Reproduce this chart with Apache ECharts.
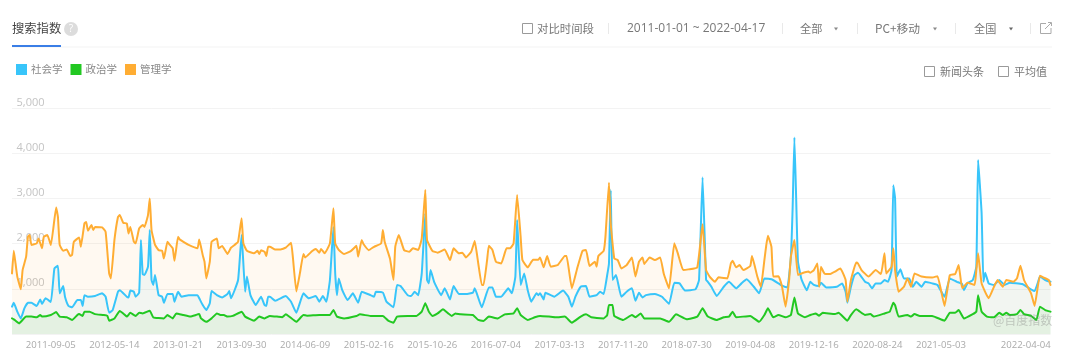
<!DOCTYPE html>
<html><head><meta charset="utf-8">
<style>html,body{margin:0;padding:0;background:#fff}#c{width:1080px;height:360px;filter:blur(0.4px)}</style>
<script src="https://cdn.jsdelivr.net/npm/echarts@6/dist/echarts.min.js"></script>
</head><body><div id="c"></div>
<script>
const seriesNames=['社会学','政治学','管理学'];
const tickDates=['2011-09-05','2012-05-14','2013-01-21','2013-09-30','2014-06-09','2015-02-16','2015-10-26','2016-07-04','2017-03-13','2017-11-20','2018-07-30','2019-04-08','2019-12-16','2020-08-24','2021-05-03','2022-04-04'];
const yTicks=[0,1000,2000,3000,4000,5000];
// week number counted from 2011-01-03
const sociologyWeeks=[0,1,3,5,7,9,11,14,16,17,19,22,24,26,27,29,30,32,34,37,39,40,41,43,47,51,53,55,57,60,61,65,66,67,69,70,72,73,74,75,77,78,79,80,81,83,85,86,88,91,92,94,96,100,105,106,108,110,112,113,116,119,122,123,124,128,130,132,133,135,138,141,143,144,145,
146,149,155,158,161,165,168,172,174,176,178,180,182,183,184,185,187,190,193,196,198,203,205,206,210,212,216,218,220,224,226,228,230,232,234,235,236,237,239,243,245,248,250,253,257,261,262,266,270,272,274,277,281,283,285,286,288,290,292,294,297,298,
299,301,302,307,312,315,317,319,322,325,327,331,333,335,337,338,339,340,342,345,348,351,353,355,357,359,364,368,372,375,378,381,387,389,391,393,394,396,399,403,406,410,413,416,420,423,426,430,434,436,439,441,442,443,444,445,447,450,
452,454,457,458,461,467,470,472,473,475,477,479,483,485,487,489,492,494,496,498,499,500,501,503,505,508,510,512,515,517,521,524,528,531,535,538,539,541,544,546,547,549,550,551,553,556,559,562,565,572,576,579,581,582,585,588];
const sociologyValues=[605,690,495,345,565,690,690,620,765,665,790,710,1450,1510,900,1060,825,620,590,750,750,620,860,825,840,900,825,470,530,935,970,825,810,960,935,825,915,2080,1325,1305,1490,2300,1195,1085,1305,860,825,690,885,885,715,935,825,860,860,790,640,530,680,950,860,810,885,950,790,1195,2190,935,1270,860,640,825,640,620,825,
825,735,840,715,470,900,790,840,715,840,715,1195,2370,1340,860,1230,970,750,900,690,935,860,825,935,915,715,590,1085,1060,860,840,935,860,1340,2670,1195,1120,1415,1155,860,1010,765,1060,885,885,915,1010,590,1030,1030,825,825,1010,900,1270,2520,1085,1340,970,715,900,860,
900,765,915,825,960,825,605,825,1045,1060,825,860,935,885,1305,1560,3185,1195,1305,825,935,1010,735,915,810,860,885,825,665,1135,1120,960,990,1195,3470,1195,1155,1045,840,1045,1155,1010,1120,1210,1045,900,1230,1210,1120,1070,1030,1710,2800,4350,3000,1610,1210,970,
1155,1085,1060,1135,1030,1045,1120,935,690,1045,1305,1355,1155,1120,1010,1120,1120,1195,1155,1415,3290,3000,1270,1430,1230,1230,1045,1155,1045,1155,1120,1085,825,1230,1155,1105,970,1120,1195,1490,3850,2670,1155,1355,1120,1085,1195,1085,1135,1105,1010,950,1155,1270,1195,1155];
const politicsWeeks=[0,1,4,5,8,11,14,16,17,22,25,27,31,34,37,38,40,41,44,47,52,54,55,58,61,64,65,67,70,72,74,78,80,86,88,91,93,97,101,106,107,110,113,116,118,120,122,125,130,132,137,140,143,146,
150,153,155,157,161,165,167,174,180,182,184,188,195,197,203,210,213,216,218,224,229,232,234,236,238,241,244,247,249,251,254,261,264,267,270,275,279,284,286,288,292,296,299,
304,308,313,317,322,325,328,335,337,338,340,341,346,351,353,356,358,367,372,376,382,388,391,394,399,403,406,408,410,418,423,426,428,431,434,438,441,443,445,449,452,
455,457,459,466,468,473,475,478,483,486,488,494,497,499,500,502,507,509,511,514,521,528,531,534,536,539,544,546,547,549,552,556,559,561,563,565,569,571,573,577,580,582,585,588];
const politicsValues=[345,325,235,270,385,385,370,420,385,420,485,385,370,310,420,440,400,495,495,440,420,400,295,345,510,420,385,470,400,470,455,515,370,345,420,345,455,420,385,440,345,270,345,455,420,420,385,400,495,385,295,385,345,400,
385,370,435,385,270,420,405,420,420,530,385,345,400,435,400,400,295,250,385,400,400,495,680,495,400,455,545,455,400,455,435,420,310,290,385,345,435,455,570,420,310,370,400,
385,370,385,250,385,435,370,345,420,640,640,400,310,420,370,455,345,345,270,435,325,385,570,385,310,370,385,495,370,400,270,420,570,370,420,370,420,810,455,370,420,
455,405,470,440,470,295,420,545,420,440,385,455,495,690,640,385,420,385,440,400,400,295,470,470,530,345,440,495,860,495,385,370,470,420,470,420,440,530,440,400,310,605,530,495];
const managementWeeks=[0,1,2,3,5,6,8,9,10,11,14,15,17,18,20,22,25,26,27,29,31,33,34,35,38,39,41,42,43,45,46,47,51,53,55,56,58,60,61,63,65,66,67,69,70,72,74,75,77,78,79,81,83,85,86,88,89,91,92,94,95,97,100,105,106,108,109,110,112,113,116,117,119,122,124,126,128,130,131,133,137,139,140,141,143,144,145,
146,149,152,155,158,159,161,163,165,166,170,172,174,175,177,180,182,183,185,188,192,195,196,198,199,202,205,209,210,211,214,216,217,219,222,225,227,230,232,234,235,238,241,245,248,250,253,255,257,260,262,264,266,267,269,270,272,274,277,280,282,284,286,288,289,292,295,298,
299,301,303,305,309,313,314,317,320,323,325,327,330,331,332,335,336,338,339,341,343,345,348,351,353,355,357,358,361,364,367,369,372,375,377,380,383,388,391,393,395,398,400,405,407,408,410,412,414,418,419,422,424,426,427,428,430,431,434,436,438,440,441,443,445,447,451,
452,454,456,457,458,460,463,466,469,472,473,475,478,479,481,485,489,492,494,495,498,499,500,502,505,507,509,511,515,521,524,526,528,531,534,536,538,541,545,546,547,549,553,556,558,561,563,567,569,571,573,577,579,582,584,587,588];
const managementValues=[1340,1840,1560,1270,990,1415,1710,2150,2190,1970,2005,2115,1895,2150,2190,1970,2800,2590,1970,1840,1870,1725,1745,2040,2135,1930,2445,2480,2285,2410,2300,2370,2360,2260,1340,1230,2080,2590,2630,2460,2445,2225,2370,2040,2005,2335,2410,2370,2630,3000,2300,1970,1855,1840,1670,2040,1990,1895,1620,2150,2090,2040,1970,1895,2090,1745,1600,1230,1600,2040,2115,1895,1945,1770,1910,1970,2040,2560,2005,1840,1785,1840,1770,1855,1820,1725,1930,
1930,1870,1870,1910,2020,1710,940,1340,1770,1695,1835,1880,1800,1880,1785,2005,2780,2005,1860,1770,1840,1950,1710,2080,1990,1855,1930,2005,2300,2040,1670,1195,1930,2190,1855,1820,1895,1860,2115,3185,2080,1840,1800,1870,1635,1895,1785,1800,1695,1820,2055,1560,1085,1085,1635,1950,1860,1600,1560,1895,1895,2005,3075,2150,1635,1475,1640,1640,
1695,1475,1725,1490,1525,1725,1725,1010,1450,1840,1860,1505,1600,1490,1725,1840,2150,3345,2445,1670,1635,1450,1525,1695,1270,1600,1695,1550,1695,1635,1695,1340,1010,2005,1785,1415,1430,1475,2430,1415,1270,1155,1255,1230,1560,1620,1475,1525,1415,1505,1725,1270,1045,1635,1945,2175,1930,1270,1280,1045,605,1195,1710,2080,1305,1340,1380,
1355,1415,1560,1045,1490,1340,1325,1380,1450,1195,715,1195,1580,1560,1415,1270,1415,1325,1785,1340,1490,1895,1415,935,1045,1230,1045,1340,1270,1250,1280,970,620,1305,1325,1525,1010,1135,1085,1415,1785,1120,790,1045,1195,1045,1195,1155,1230,1510,1195,900,620,1290,1250,1195,1085];
const seriesColors=['#38c5fa','#22c822','#ffad33'];

const WEEKS=589, DAY=86400000, start=Date.UTC(2011,0,3);
const categories=[];
for(let i=0;i<WEEKS;i++)categories.push(new Date(start+i*7*DAY).toISOString().slice(0,10));
const zip=(w,v)=>w.map((x,i)=>[x,v[i]]);
const lists=[zip(sociologyWeeks,sociologyValues),zip(politicsWeeks,politicsValues),zip(managementWeeks,managementValues)];
const FONT='"Open Sans","Noto Sans CJK SC",sans-serif', CJK='"Noto Sans CJK SC",sans-serif';
const txt=(x,y,s,size,fill,align)=>({type:'text',x,y,silent:true,style:{text:s,fontSize:size,fill,fontFamily:s.match(/^[\x00-\x7f]+$/)?FONT:CJK,align:align||'left',verticalAlign:'middle'}});
const box=(x,y)=>({type:'rect',shape:{x,y,width:10,height:10},style:{fill:'#fff',stroke:'#9a9a9a',lineWidth:1}});
const line=(x,y1,y2)=>({type:'line',shape:{x1:x,y1,x2:x,y2},style:{stroke:'#e9e9e9',lineWidth:1}});
const caret=(x,y,c)=>({type:'polygon',shape:{points:[[x-2,y-1.5],[x+2,y-1.5],[x,y+1.5]]},style:{fill:c||'#8a8a8a'}});
const graphics=[
 {type:'rect',shape:{x:12,y:46.5,width:1040,height:1},style:{fill:'#f4f4f4'}},
 {type:'rect',shape:{x:12,y:45,width:49,height:2},style:{fill:'#3a7ee6'}},
 txt(12,28.5,'搜索指数',12.3,'#444'),
 {type:'circle',shape:{cx:71,cy:29,r:7},style:{fill:'#dcdcdc'}},
 txt(71,29,'?',10,'#fff','center'),
 box(522.5,23.5),txt(537,28.5,'对比时间段',11.4,'#777'),line(608.5,23,34),
 txt(627,28.5,'2011-01-01 ~ 2022-04-17',12,'#777'),line(782.5,23,34),
 txt(800,28.5,'全部',11.2,'#777'),caret(836,29),line(857.5,23,34),
 txt(875,28.5,'PC+移动',11.8,'#777'),caret(935,29),line(955.5,23,34),
 txt(974,28.5,'全国',11.2,'#777'),caret(1011,29,'#666'),line(1030.5,23,34),
 {type:'polyline',shape:{points:[[1046,23.5],[1040.5,23.5],[1040.5,33.5],[1051,33.5],[1051,28]]},style:{fill:'none',stroke:'#aaa',lineWidth:1}},
 {type:'polyline',shape:{points:[[1048,22.5],[1051.5,22.5],[1051.5,26]]},style:{fill:'none',stroke:'#aaa',lineWidth:1}},
 {type:'line',shape:{x1:1051,y1:23,x2:1045,y2:29},style:{stroke:'#aaa',lineWidth:1}},
 box(924.5,66.5),txt(940,71.5,'新闻头条',11,'#777'),
 box(998.5,66.5),txt(1014,71.5,'平均值',11,'#777'),
 {type:'text',x:993,y:320,z:100,silent:true,style:{text:'@百度指数',fontSize:12,fontFamily:CJK,fill:'rgba(130,130,130,0.38)',verticalAlign:'middle'}}
];
const chart=echarts.init(document.getElementById('c'),null,{renderer:'canvas'});
chart.setOption({
 animation:false,
 backgroundColor:'#fff',
 textStyle:{fontFamily:FONT},
 grid:{left:12,right:29.5,top:108,bottom:26},
 legend:{left:16,top:64,padding:0,icon:'rect',itemWidth:11,itemHeight:11,itemGap:8,data:seriesNames,selectedMode:false,textStyle:{fontSize:10.5,color:'#888',fontFamily:CJK,padding:[0,0,0,-1]}},
 xAxis:{type:'category',data:categories,boundaryGap:false,axisLine:{show:false},axisTick:{show:false},splitLine:{show:false},
  axisLabel:{interval:(i,v)=>tickDates.includes(v),align:'right',color:'#aaa',fontSize:9.6,margin:6,padding:[0,-2,0,0],fontFamily:FONT,hideOverlap:false}},
 yAxis:{type:'value',min:yTicks[0],max:yTicks[5],interval:1000,axisLine:{show:false},axisTick:{show:false},splitLine:{lineStyle:{color:'#f3f3f3',width:1}},
  axisLabel:{inside:true,verticalAlign:'bottom',margin:4.5,color:'#c4c4c4',fontSize:11,fontFamily:FONT,showMinLabel:false,formatter:v=>v.toLocaleString('en-US')}},
 series:seriesNames.map((name,i)=>({name,type:'line',data:lists[i],showSymbol:false,symbol:'none',smooth:0.12,itemStyle:{color:seriesColors[i]},
  lineStyle:{color:seriesColors[i],width:2,join:'round',cap:'round'},areaStyle:{color:seriesColors[i],opacity:0.07},clip:true})),
 graphic:graphics
});
</script></body></html>
